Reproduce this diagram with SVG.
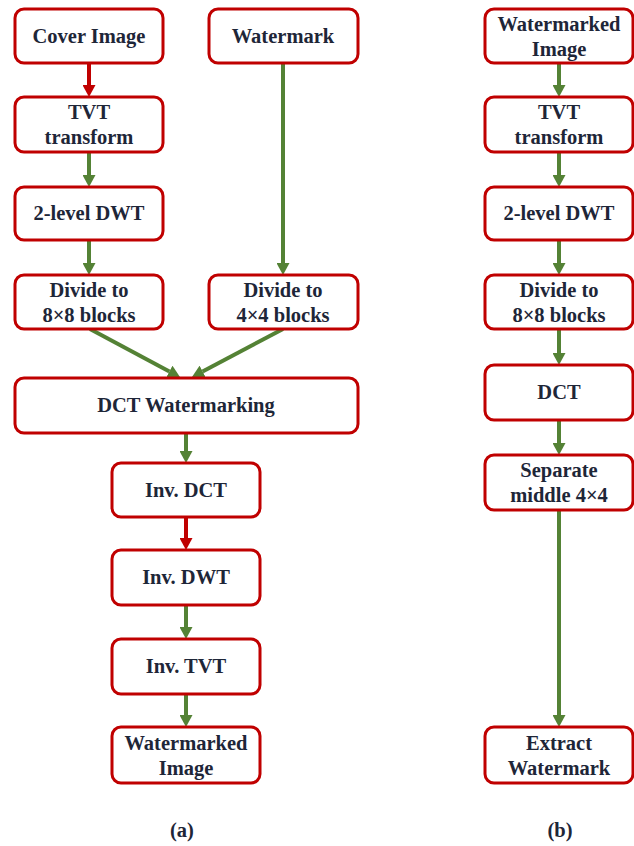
<svg xmlns="http://www.w3.org/2000/svg" width="634" height="846" viewBox="0 0 634 846">
<style>
.box{fill:#fff;stroke:#C00000;stroke-width:3}
.t{font-family:'Liberation Serif','Times New Roman',Times,'DejaVu Serif',serif;font-weight:bold;font-size:20.5px;fill:#1e2638;text-anchor:middle}
.g{stroke:#548235;stroke-width:4;fill:none}
.r{stroke:#C00000;stroke-width:4;fill:none}
</style>
<defs>
<marker id="ag" markerUnits="userSpaceOnUse" markerWidth="12" markerHeight="13" refX="0" refY="6.5" orient="auto"><path d="M0,0 L12,6.5 L0,13 z" fill="#548235"/></marker>
<marker id="ar" markerUnits="userSpaceOnUse" markerWidth="12" markerHeight="13" refX="0" refY="6.5" orient="auto"><path d="M0,0 L12,6.5 L0,13 z" fill="#C00000"/></marker>
</defs>
<rect width="634" height="846" fill="#fff"/>
<g id="connectors">
<path class="r" d="M89,63 V85" marker-end="url(#ar)"/>
<path class="g" d="M89,152 V175" marker-end="url(#ag)"/>
<path class="g" d="M89,240 V263" marker-end="url(#ag)"/>
<path class="g" d="M283,63 V263" marker-end="url(#ag)"/>
<path class="g" d="M90,329 L169.4,371.4" marker-end="url(#ag)"/>
<path class="g" d="M283,329 L202.6,371.4" marker-end="url(#ag)"/>
<path class="g" d="M186,433 V451" marker-end="url(#ag)"/>
<path class="r" d="M186,517 V538" marker-end="url(#ar)"/>
<path class="g" d="M186,605 V627" marker-end="url(#ag)"/>
<path class="g" d="M186,694 V715" marker-end="url(#ag)"/>
<path class="g" d="M559,63 V85" marker-end="url(#ag)"/>
<path class="g" d="M559,152 V175" marker-end="url(#ag)"/>
<path class="g" d="M559,240 V263" marker-end="url(#ag)"/>
<path class="g" d="M559,329 V353" marker-end="url(#ag)"/>
<path class="g" d="M559,420 V443" marker-end="url(#ag)"/>
<path class="g" d="M559,510 V715" marker-end="url(#ag)"/>
</g>
<g id="cover"><rect class="box" x="15" y="9" width="148" height="54" rx="9"/><text class="t" x="89" y="43">Cover Image</text></g>
<g id="watermark"><rect class="box" x="209" y="9" width="149" height="54" rx="9"/><text class="t" x="283" y="43">Watermark</text></g>
<g id="tvt"><rect class="box" x="15" y="97" width="148" height="55" rx="9"/><text class="t" x="89" y="119">TVT</text><text class="t" x="89" y="144">transform</text></g>
<g id="dwt"><rect class="box" x="15" y="187" width="148" height="53" rx="9"/><text class="t" x="89" y="220">2-level DWT</text></g>
<g id="div8"><rect class="box" x="15" y="275" width="148" height="54" rx="9"/><text class="t" x="89" y="297">Divide to</text><text class="t" x="89" y="322">8×8 blocks</text></g>
<g id="div4"><rect class="box" x="209" y="275" width="149" height="54" rx="9"/><text class="t" x="283" y="297">Divide to</text><text class="t" x="283" y="322">4×4 blocks</text></g>
<g id="dctw"><rect class="box" x="15" y="378" width="343" height="55" rx="9"/><text class="t" x="186" y="412">DCT Watermarking</text></g>
<g id="invdct"><rect class="box" x="112" y="463" width="148" height="54" rx="9"/><text class="t" x="186" y="497">Inv. DCT</text></g>
<g id="invdwt"><rect class="box" x="112" y="550" width="148" height="55" rx="9"/><text class="t" x="186" y="584">Inv. DWT</text></g>
<g id="invtvt"><rect class="box" x="112" y="639" width="148" height="55" rx="9"/><text class="t" x="186" y="673">Inv. TVT</text></g>
<g id="wimg"><rect class="box" x="112" y="727" width="148" height="56" rx="9"/><text class="t" x="186" y="750">Watermarked</text><text class="t" x="186" y="775">Image</text></g>
<g id="b-wimg"><rect class="box" x="485" y="9" width="148" height="54" rx="9"/><text class="t" x="559" y="31">Watermarked</text><text class="t" x="559" y="56">Image</text></g>
<g id="b-tvt"><rect class="box" x="485" y="97" width="148" height="55" rx="9"/><text class="t" x="559" y="119">TVT</text><text class="t" x="559" y="144">transform</text></g>
<g id="b-dwt"><rect class="box" x="485" y="187" width="148" height="53" rx="9"/><text class="t" x="559" y="220">2-level DWT</text></g>
<g id="b-div8"><rect class="box" x="485" y="275" width="148" height="54" rx="9"/><text class="t" x="559" y="297">Divide to</text><text class="t" x="559" y="322">8×8 blocks</text></g>
<g id="b-dct"><rect class="box" x="485" y="365" width="148" height="55" rx="9"/><text class="t" x="559" y="399">DCT</text></g>
<g id="b-sep"><rect class="box" x="485" y="455" width="148" height="55" rx="9"/><text class="t" x="559" y="477">Separate</text><text class="t" x="559" y="502">middle 4×4</text></g>
<g id="b-extract"><rect class="box" x="485" y="727" width="148" height="56" rx="9"/><text class="t" x="559" y="750">Extract</text><text class="t" x="559" y="775">Watermark</text></g>
<g id="captions"><text class="t" x="182" y="837">(a)</text><text class="t" x="560" y="837">(b)</text></g>
</svg>
